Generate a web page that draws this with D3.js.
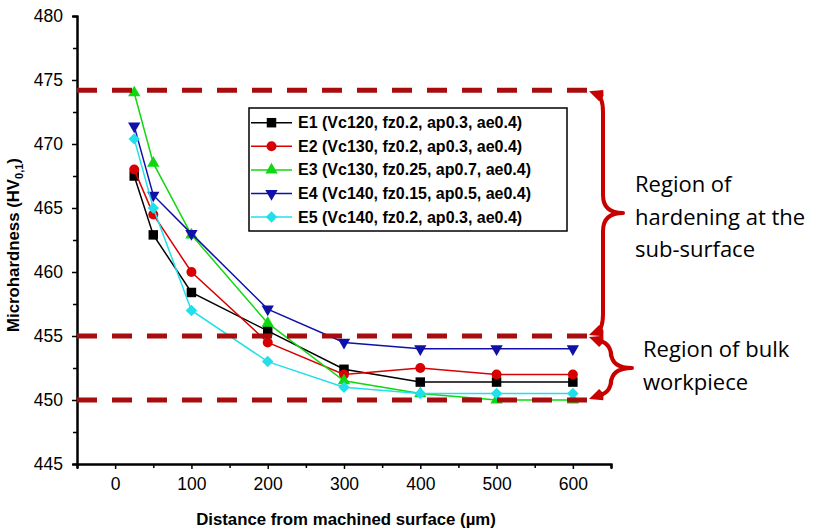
<!DOCTYPE html>
<html><head><meta charset="utf-8">
<script src="https://cdn.jsdelivr.net/npm/d3@7"></script>
<style>body{margin:0;background:#fff}svg{display:block}</style>
</head><body>
<svg id="c" width="819" height="531"></svg>
<script>
const distances = [25, 50, 100, 200, 300, 400, 500, 600];
const seriesNames = [
  "E1 (Vc120, fz0.2, ap0.3, ae0.4)",
  "E2 (Vc130, fz0.2, ap0.3, ae0.4)",
  "E3 (Vc130, fz0.25, ap0.7, ae0.4)",
  "E4 (Vc140, fz0.15, ap0.5, ae0.4)",
  "E5 (Vc140, fz0.2, ap0.3, ae0.4)"
];
const e1 = [467.5, 462.9, 458.4, 455.4, 452.4, 451.4, 451.4, 451.4];
const e2 = [468.0, 464.5, 460.0, 454.5, 452.0, 452.5, 452.0, 452.0];
const e3 = [474.0, 468.5, 462.9, 456.0, 451.5, 450.5, 450.0, 450.0];
const e4 = [471.4, 466.0, 463.0, 457.1, 454.5, 454.0, 454.0, 454.0];
const e5 = [470.4, 465.0, 457.0, 453.0, 451.0, 450.5, 450.5, 450.5];
const xTicks = [0, 100, 200, 300, 400, 500, 600];
const yTicks = [445, 450, 455, 460, 465, 470, 475, 480];
const regionLevels = [474.2, 455, 450];
const regionLabels = [["Region of", "hardening at the", "sub-surface"], ["Region of bulk", "workpiece"]];

const colors = ["#000000", "#d80000", "#10d810", "#1010a8", "#22e0ea"];
const symbols = ["square", "circle", "triUp", "triDown", "diamond"];
const allSeries = [e1, e2, e3, e4, e5];

const svg = d3.select("#c");
const x = d3.scaleLinear().domain([-50, 650]).range([77, 611]);
const y = d3.scaleLinear().domain([445, 480]).range([464, 16]);

function symPath(kind) {
  if (kind === "square") return d3.symbol(d3.symbolSquare, 90)();
  if (kind === "circle") return d3.symbol(d3.symbolCircle, 78)();
  if (kind === "triUp") return d3.symbol(d3.symbolTriangle, 66)();
  if (kind === "triDown") return d3.symbol(d3.symbolTriangle, 66)();
  if (kind === "diamond") return d3.symbol(d3.symbolSquare, 66)();
}
function symRot(kind) {
  if (kind === "triDown") return 180;
  if (kind === "diamond") return 45;
  return 0;
}

// axes
const axisFont = "'Liberation Sans', Arial, sans-serif";
const xAxis = svg.append("g").attr("transform", "translate(0,464)")
  .call(d3.axisBottom(x).tickValues(xTicks).tickSize(5).tickPadding(9).tickFormat(d3.format("d")));
const xMinor = svg.append("g").attr("transform", "translate(0,464)")
  .call(d3.axisBottom(x).tickValues(d3.range(-50, 651, 50).filter(v => !xTicks.includes(v))).tickSize(4).tickFormat(""));
const yAxis = svg.append("g").attr("transform", "translate(77,0)")
  .call(d3.axisLeft(y).tickValues(yTicks).tickSize(5).tickPadding(9).tickFormat(d3.format("d")));
const yMinor = svg.append("g").attr("transform", "translate(77,0)")
  .call(d3.axisLeft(y).tickValues(d3.range(447.5, 480, 5)).tickSize(4).tickFormat(""));
[xAxis, xMinor, yAxis, yMinor].forEach(g => {
  g.select(".domain").attr("stroke", "#000").attr("stroke-width", 2);
  g.selectAll(".tick line").attr("stroke", "#000").attr("stroke-width", 1.5);
  g.selectAll("text").attr("font-family", axisFont).attr("font-size", 17.5).attr("fill", "#000");
});

// axis titles
svg.append("text").attr("x", 346).attr("y", 525).attr("text-anchor", "middle")
  .attr("font-family", axisFont).attr("font-weight", "bold").attr("font-size", 16.8)
  .text("Distance from machined surface (\u00b5m)");
const yl = svg.append("text").attr("transform", "translate(19,245) rotate(-90)").attr("text-anchor", "middle")
  .attr("font-family", axisFont).attr("font-weight", "bold").attr("font-size", 16.8);
yl.append("tspan").text("Microhardness (HV");
yl.append("tspan").attr("font-size", 11).attr("dy", 4).text("0,1");
yl.append("tspan").attr("dy", -4).text(")");

// series
const line = d3.line().x((d, i) => x(distances[i])).y(d => y(d));
allSeries.forEach((s, k) => {
  const g = svg.append("g");
  g.append("path").attr("d", line(s)).attr("fill", "none").attr("stroke", colors[k]).attr("stroke-width", 1.5);
  g.selectAll("path.m").data(s).join("path").attr("class", "m")
    .attr("d", symPath(symbols[k]))
    .attr("transform", (d, i) => `translate(${x(distances[i])},${y(d)}) rotate(${symRot(symbols[k])})`)
    .attr("fill", colors[k]);
});

// dashed region lines
const dashColor = "#a80c0c";
const dashEnd = 588;
svg.selectAll("line.reg").data(regionLevels).join("line").attr("class", "reg")
  .attr("x1", 77).attr("x2", dashEnd).attr("y1", d => y(d)).attr("y2", d => y(d))
  .attr("stroke", dashColor).attr("stroke-width", 5).attr("stroke-dasharray", "20,15");

// legend
const lg = svg.append("g");
lg.append("rect").attr("x", 249).attr("y", 108).attr("width", 318).attr("height", 123)
  .attr("fill", "#fff").attr("stroke", "#000").attr("stroke-width", 1.5);
seriesNames.forEach((n, k) => {
  const cy = 122.7 + k * 23.6;
  lg.append("line").attr("x1", 251).attr("x2", 292).attr("y1", cy).attr("y2", cy)
    .attr("stroke", colors[k]).attr("stroke-width", 1.5);
  lg.append("path").attr("d", symPath(symbols[k]))
    .attr("transform", `translate(271.5,${cy}) rotate(${symRot(symbols[k])})`).attr("fill", colors[k]);
  lg.append("text").attr("x", 298).attr("y", cy + 5.5)
    .attr("font-family", axisFont).attr("font-weight", "bold").attr("font-size", 16).text(n);
});

// braces
const braceColor = "#c80000";
function arrowHead(tx, ty, ang) {
  const a = ang * Math.PI / 180, L = 13, W = 6;
  const bx = tx - L * Math.cos(a), by = ty - L * Math.sin(a);
  const px = -Math.sin(a) * W, py = Math.cos(a) * W;
  svg.append("path").attr("d", `M${tx},${ty}L${bx + px},${by + py}L${bx + px * 0.2 - 2 * Math.cos(a)},${by + py * 0.2 - 2 * Math.sin(a)}L${bx - px * 0.2 - 2 * Math.cos(a)},${by - py * 0.2 - 2 * Math.sin(a)}L${bx - px},${by - py}Z`)
    .attr("fill", braceColor);
}
function brace(yTop, yBot, xv, xTip) {
  const mid = (yTop + yBot) / 2;
  const r = Math.min(18, (yBot - yTop) / 4);
  const p = d3.path();
  p.moveTo(dashEnd + 8, yTop + 4);
  p.quadraticCurveTo(xv, yTop + 6, xv, yTop + r + 4);
  p.lineTo(xv, mid - r);
  p.quadraticCurveTo(xv, mid, xTip, mid);
  p.quadraticCurveTo(xv, mid, xv, mid + r);
  p.lineTo(xv, yBot - r - 4);
  p.quadraticCurveTo(xv, yBot - 6, dashEnd + 8, yBot - 4);
  svg.append("path").attr("d", p.toString()).attr("fill", "none").attr("stroke", braceColor)
    .attr("stroke-width", 4).attr("stroke-linejoin", "round");
  arrowHead(dashEnd + 1, yTop + 1, 200);
  arrowHead(dashEnd + 1, yBot - 1, 160);
}
brace(y(regionLevels[0]), y(regionLevels[1]), 603, 623);
brace(y(regionLevels[1]), y(regionLevels[2]), 611, 632);

// region labels
const annFont = "'Open Sans', Lato, sans-serif";
regionLabels[0].forEach((t, i) => {
  svg.append("text").attr("x", 635).attr("y", 192 + i * 32.5).attr("font-family", annFont)
    .attr("font-size", 22).attr("fill", "#000").text(t);
});
regionLabels[1].forEach((t, i) => {
  svg.append("text").attr("x", 643).attr("y", 357 + i * 33).attr("font-family", annFont)
    .attr("font-size", 22).attr("fill", "#000").text(t);
});
</script>
</body></html>
